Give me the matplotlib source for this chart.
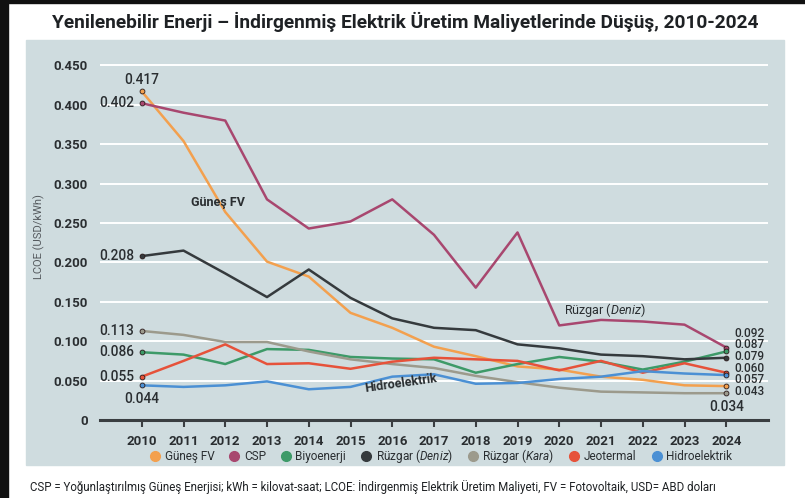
import matplotlib
matplotlib.use('Agg')
import matplotlib.pyplot as plt
from matplotlib.patches import Rectangle
from matplotlib.lines import Line2D

plt.rcParams['font.family'] = ['Roboto', 'DejaVu Sans']
plt.rcParams['mathtext.fontset'] = 'custom'
plt.rcParams['mathtext.it'] = 'Roboto:italic'
plt.rcParams['mathtext.rm'] = 'Roboto'

years = list(range(2010, 2025))

gunes_fv = [0.417, 0.354, 0.264, 0.201, 0.182, 0.136, 0.117, 0.093, 0.081, 0.068, 0.064, 0.055, 0.051, 0.044, 0.043]
csp = [0.402, 0.390, 0.380, 0.280, 0.243, 0.252, 0.280, 0.235, 0.168, 0.238, 0.120, 0.127, 0.125, 0.121, 0.092]
biyoenerji = [0.086, 0.083, 0.071, 0.090, 0.089, 0.080, 0.078, 0.077, 0.060, 0.071, 0.080, 0.074, 0.064, 0.074, 0.087]
ruzgar_deniz = [0.208, 0.215, 0.186, 0.156, 0.191, 0.155, 0.129, 0.117, 0.114, 0.096, 0.091, 0.083, 0.081, 0.077, 0.079]
ruzgar_kara = [0.113, 0.108, 0.099, 0.099, 0.087, 0.077, 0.071, 0.066, 0.056, 0.048, 0.041, 0.036, 0.035, 0.034, 0.034]
jeotermal = [0.055, 0.075, 0.096, 0.071, 0.072, 0.065, 0.074, 0.079, 0.077, 0.075, 0.063, 0.075, 0.060, 0.072, 0.060]
hidro = [0.044, 0.042, 0.044, 0.049, 0.039, 0.042, 0.055, 0.058, 0.046, 0.047, 0.052, 0.055, 0.062, 0.059, 0.057]

names = ['Güneş FV', 'CSP', 'Biyoenerji', 'Rüzgar $\\it{(Deniz)}$', 'Rüzgar $\\it{(Kara)}$', 'Jeotermal', 'Hidroelektrik']
series = [gunes_fv, csp, biyoenerji, ruzgar_deniz, ruzgar_kara, jeotermal, hidro]
colors = ['#f3a04e', '#a8476f', '#3d9a68', '#353a3d', '#9c9a8c', '#e6523a', '#4b90d4']
yticks = [0, 0.05, 0.10, 0.15, 0.20, 0.25, 0.30, 0.35, 0.40, 0.45]
ytick_labels = ['0', '0.050', '0.100', '0.150', '0.200', '0.250', '0.300', '0.350', '0.400', '0.450']

# end-of-line labels (2024), ordered top to bottom
end_vals = [0.092, 0.087, 0.079, 0.060, 0.057, 0.043]

txt = '#2a2e31'
fig = plt.figure(figsize=(8.05, 4.98), dpi=100)
W, H = 805, 498

# frame and panel
fig.patches.append(Rectangle((0, 0), 8 / W, 1, transform=fig.transFigure, color='#111111', zorder=-10))
fig.patches.append(Rectangle((0, 1 - 3 / H), 1, 3 / H, transform=fig.transFigure, color='#111111', zorder=-10))
fig.patches.append(Rectangle((26 / W, 1 - 465 / H), (784 - 26) / W, (465 - 40) / H,
                             transform=fig.transFigure, color='#cfdcdf', zorder=-10))

fig.text(405 / W, 1 - 22 / H, 'Yenilenebilir Enerji – İndirgenmiş Elektrik Üretim Maliyetlerinde Düşüş, 2010-2024',
         ha='center', va='center', fontsize=13.8, fontweight='bold', color='#1e2124')

ax = fig.add_axes([100 / W, 1 - 420 / H, 668 / W, (420 - 53.6) / H])
ax.set_facecolor('none')
for s in ['top', 'right', 'left']:
    ax.spines[s].set_visible(False)
ax.spines['bottom'].set_color('#3a3e41')
ax.spines['bottom'].set_linewidth(2.2)

ax.set_xlim(2009, 2025)
ax.set_ylim(0, 0.465)
ax.set_yticks(yticks)
ax.set_yticklabels(ytick_labels)
ax.set_xticks(years)
ax.tick_params(axis='y', length=0, pad=9, labelsize=9.5, labelcolor=txt)
ax.tick_params(axis='x', length=5, width=1.5, color='#3a3e41', pad=6, labelsize=9.5, labelcolor=txt)
for lab in ax.get_xticklabels() + ax.get_yticklabels():
    lab.set_fontweight('bold')
ax.grid(axis='y', color='white', linewidth=1.4)
ax.set_axisbelow(True)
ax.set_ylabel('LCOE (USD/kWh)', fontsize=8, color='#555a5e', labelpad=6)

for vals, c in zip(series, colors):
    ax.plot(years, vals, color=c, linewidth=1.8, zorder=3)
    ax.plot([years[0], years[-1]], [vals[0], vals[-1]], 'o', color=c, markersize=3.5,
            markeredgecolor='#2a1a1a', markeredgewidth=0.6, zorder=4)

fs = 9.8
# start labels
ax.text(2010, gunes_fv[0] + 0.006, '0.417', ha='center', va='bottom', fontsize=fs, color=txt, fontweight='medium')
for vals in [csp, ruzgar_deniz, ruzgar_kara, biyoenerji, jeotermal]:
    ax.text(2009.82, vals[0], '%.3f' % vals[0], ha='right', va='center', fontsize=fs, color=txt, fontweight='medium')
ax.text(2010.0, hidro[0] - 0.008, '0.044', ha='center', va='top', fontsize=fs, color=txt, fontweight='medium')

# end labels, stacked so they stay readable
end_pos = [0.1100, 0.0952, 0.0804, 0.0656, 0.0508, 0.0360]
for v, p in zip(end_vals, end_pos):
    ax.text(2024.2, p, '%.3f' % v, ha='left', va='center', fontsize=8.5, color=txt, fontweight='medium')
ax.text(2024.0, ruzgar_kara[-1] - 0.008, '0.034', ha='center', va='top', fontsize=fs, color=txt, fontweight='medium')

# inline series labels
ax.text(2011.82, 0.2755, 'Güneş FV', ha='center', va='center', fontsize=9, fontweight='bold', color=txt)
ax.text(2021.1, 0.139, 'Rüzgar $\\it{(Deniz)}$', ha='center', va='center', fontsize=9, color=txt)
ax.text(2016.2, 0.047, 'Hidroelektrik', ha='center', va='center', fontsize=9, fontweight='bold',
        color=txt, rotation=8)

handles = [Line2D([], [], marker='o', linestyle='none', color=c, markersize=7) for c in colors]
fig.legend(handles, names, loc='center', bbox_to_anchor=(440 / W, 1 - 456 / H), ncol=7, frameon=False,
           fontsize=8.5, handletextpad=0.2, columnspacing=1.1, handlelength=1.2, labelcolor=txt)

fig.text(30 / W, 1 - 487 / H,
         'CSP = Yoğunlaştırılmış Güneş Enerjisi; kWh = kilovat-saat; LCOE: İndirgenmiş Elektrik Üretim Maliyeti, '
         'FV = Fotovoltaik, USD= ABD doları', ha='left', va='center', fontsize=8.3, color='#1e2124')

fig.savefig('out.png', dpi=100)
